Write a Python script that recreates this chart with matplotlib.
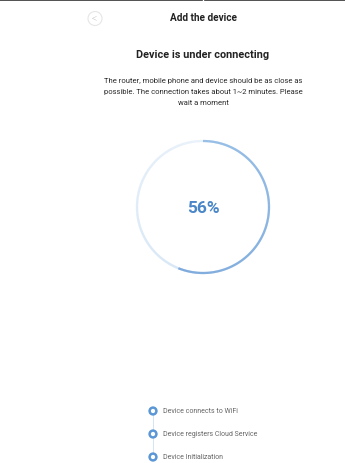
import numpy as np
import matplotlib.pyplot as plt
from matplotlib.collections import LineCollection
from matplotlib.patches import Circle

plt.rcParams['font.family'] = ['Roboto', 'DejaVu Sans']

page_title = "Add the device"
status_title = "Device is under connecting"
hint_lines = [
    "The router, mobile phone and device should be as close as",
    "possible. The connection takes about 1~2 minutes. Please",
    "wait a moment",
]
progress = 56
steps = ["Device connects to WiFi", "Device registers Cloud Service", "Device Initialization"]

W, H = 345, 464
fig = plt.figure(figsize=(W / 100, H / 100), dpi=100)
ax = fig.add_axes([0, 0, 1, 1])
ax.set_xlim(0, W)
ax.set_ylim(H, 0)
ax.axis('off')

# top edge bar
ax.plot([0, 202], [0.6, 0.6], color='#333333', lw=1.2)
ax.plot([205, W], [0.6, 0.6], color='#333333', lw=1.2)

# back button
ax.add_patch(Circle((95, 19.5), 7, fill=False, ec='#e6e6e6', lw=0.8))
ax.text(94.5, 19, "<", ha='center', va='center', fontsize=7.5, color='#9a9a9a',
        fontweight='light')

ax.text(203, 18, page_title, ha='center', va='center', fontsize=7.2,
        fontweight='bold', color='#222222')
ax.text(203, 55, status_title, ha='center', va='center', fontsize=7.8,
        fontweight='bold', color='#222222')
for i, line in enumerate(hint_lines):
    ax.text(203, 81 + i * 11, line, ha='center', va='center', fontsize=5.5,
            color='#2a2a2a')

# progress ring
cx, cy, r = 203, 208, 66
end = progress / 100 * 2 * np.pi
t = np.linspace(0, 2 * np.pi, 721)
pts = np.column_stack([cx + r * np.sin(t), cy - r * np.cos(t)])
segs = np.stack([pts[:-1], pts[1:]], axis=1)
dark0 = np.array([0x78, 0xac, 0xe0]) / 255
dark1 = np.array([0x55, 0x90, 0xd2]) / 255
light0 = np.array([0xcc, 0xe1, 0xf5]) / 255
light1 = np.array([0xe4, 0xef, 0xfa]) / 255
cols = []
for a in t[:-1]:
    if a < end:
        f = a / end
        cols.append(dark0 * (1 - f) + dark1 * f)
    else:
        f = (a - end) / (2 * np.pi - end)
        cols.append(light0 * (1 - f) + light1 * f)
ax.add_collection(LineCollection(segs, colors=cols, linewidths=1.6, capstyle='butt'))
ax.text(cx, cy + 1, f"{progress}%", ha='center', va='center', fontsize=12.5,
        fontweight='bold', color='#4a86c8')

# steps
step_y = [412, 435, 458]
ax.plot([153, 153], [step_y[0], step_y[-1]], color='#cfe0f2', lw=0.6, zorder=1)
for y, label in zip(step_y, steps):
    ax.add_patch(Circle((153, y), 3.4, fc='white', ec='#5b97d6', lw=1.8, zorder=2))
    ax.text(163, y, label, ha='left', va='center', fontsize=5, color='#666666')

fig.savefig('out.png', dpi=100, facecolor='white')
